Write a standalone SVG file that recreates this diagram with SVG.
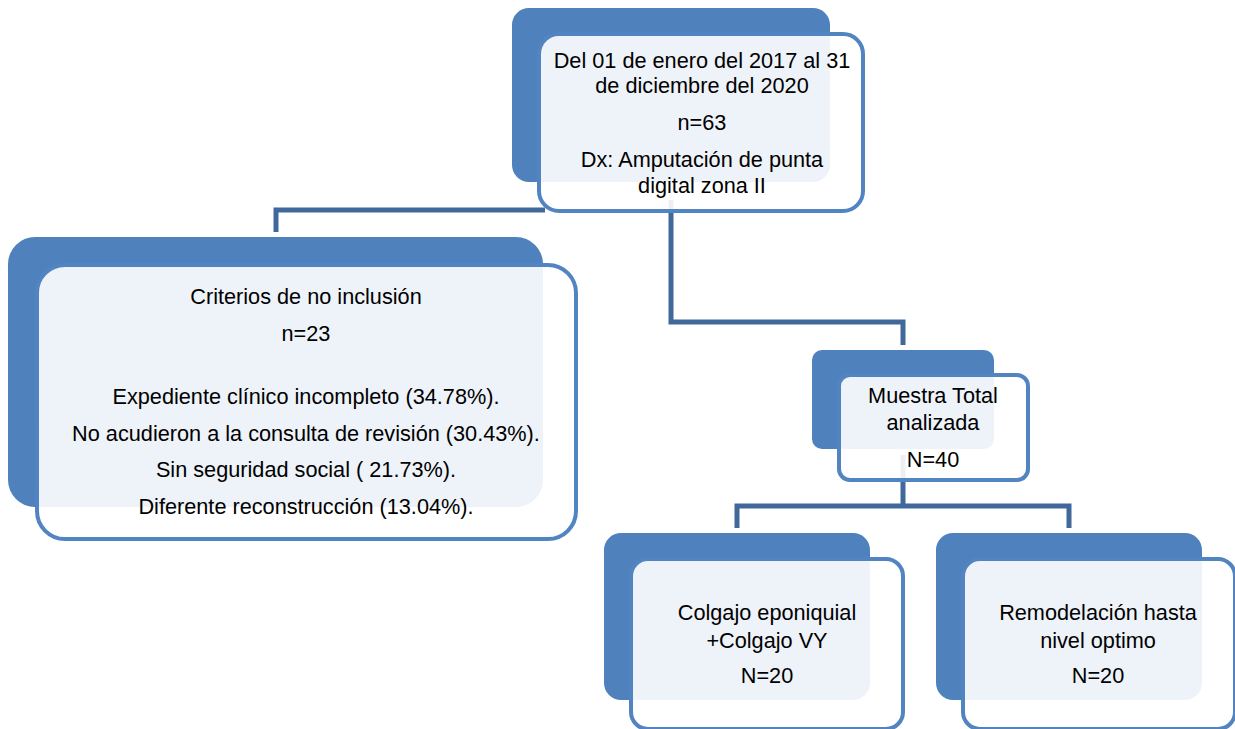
<svg xmlns="http://www.w3.org/2000/svg" width="1235" height="729" viewBox="0 0 1235 729">
<style>
.back{fill:#4f81bd;}
.frame{fill:#ffffff;fill-opacity:0.9;stroke:#5284c2;stroke-width:4;}
.conn{fill:none;stroke:#41689b;stroke-width:5;stroke-linejoin:miter;stroke-linecap:butt;}
text{font-family:"Liberation Sans",Arial,sans-serif;font-size:21.7px;fill:#000;text-anchor:middle;}
</style>
<rect width="1235" height="729" fill="#ffffff"/>
<g id="connectors">
<path class="conn" d="M276 232 V210 H545"/>
<path class="conn" d="M671 200 V322 H903 V345"/>
<path class="conn" d="M903 455 V506"/>
<path class="conn" d="M737 528 V506 H1069 V528"/>
</g>
<g id="node-top">
<rect class="back" x="512" y="8" width="318" height="174" rx="17"/>
<rect class="frame" x="539" y="34" width="324" height="177" rx="20"/>
<text x="702" y="68">Del 01 de enero del 2017 al 31</text>
<text x="702" y="93">de diciembre del 2020</text>
<text x="702" y="130">n=63</text>
<text x="702" y="167">Dx: Amputación de punta</text>
<text x="702" y="193">digital zona II</text>
</g>
<g id="node-exclusion">
<rect class="back" x="8" y="237" width="535" height="270" rx="27"/>
<rect class="frame" x="37" y="265" width="539" height="274" rx="28"/>
<text x="306" y="304">Criterios de no inclusión</text>
<text x="306" y="341">n=23</text>
<text x="306" y="404">Expediente clínico incompleto (34.78%).</text>
<text x="306" y="441">No acudieron a la consulta de revisión (30.43%).</text>
<text x="306" y="477">Sin seguridad social ( 21.73%).</text>
<text x="306" y="514">Diferente reconstrucción (13.04%).</text>
</g>
<g id="node-muestra">
<rect class="back" x="812" y="350" width="182" height="99" rx="10"/>
<rect class="frame" x="839" y="375" width="189" height="105" rx="11"/>
<text x="933" y="403">Muestra Total</text>
<text x="933" y="430">analizada</text>
<text x="933" y="467">N=40</text>
</g>
<g id="node-colgajo">
<rect class="back" x="604" y="533" width="266" height="167" rx="17"/>
<rect class="frame" x="631" y="559" width="272" height="170" rx="17"/>
<text x="767" y="620">Colgajo eponiquial</text>
<text x="767" y="648">+Colgajo VY</text>
<text x="767" y="683">N=20</text>
</g>
<g id="node-remodelacion">
<rect class="back" x="936" y="533" width="266" height="167" rx="17"/>
<rect class="frame" x="963" y="559" width="272" height="170" rx="17"/>
<text x="1098" y="620">Remodelación hasta</text>
<text x="1098" y="648">nivel optimo</text>
<text x="1098" y="683">N=20</text>
</g>
</svg>
